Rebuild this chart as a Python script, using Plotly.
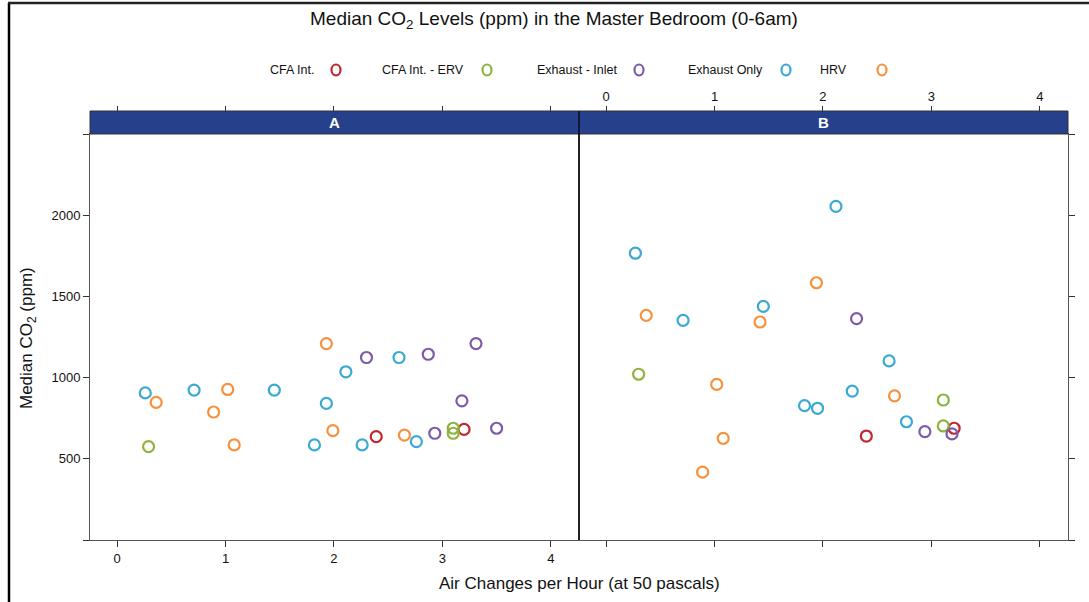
import plotly.graph_objects as go

# ---------------- data ----------------
SYSTEMS = ["CFA Int.", "CFA Int. - ERV", "Exhaust - Inlet", "Exhaust Only", "HRV"]
COLORS = ["#C1272D", "#8DB43E", "#7D5BA6", "#3AA9D3", "#F7913D"]
PANELS = ["A", "B"]

# panel A
A_CFA_X = [2.39, 3.20]
A_CFA_Y = [637, 682]
A_ERV_X = [0.29, 3.10, 3.10]
A_ERV_Y = [576, 689, 658]
A_INLET_X = [2.30, 2.87, 3.31, 3.18, 2.93, 3.50]
A_INLET_Y = [1125, 1145, 1211, 858, 658, 689]
A_EXH_X = [0.26, 0.71, 1.45, 1.93, 1.82, 2.60, 2.11, 2.26, 2.76]
A_EXH_Y = [907, 924, 924, 842, 586, 1125, 1037, 586, 606]
A_HRV_X = [0.36, 1.02, 0.89, 1.08, 1.93, 1.99, 2.65]
A_HRV_Y = [848, 928, 789, 586, 1211, 674, 647]

# panel B
B_CFA_X = [2.40, 3.21]
B_CFA_Y = [641, 689]
B_ERV_X = [0.30, 3.11, 3.11]
B_ERV_Y = [1022, 863, 703]
B_INLET_X = [2.31, 2.94, 3.19]
B_INLET_Y = [1365, 668, 654]
B_EXH_X = [0.27, 1.45, 0.71, 1.83, 1.95, 2.12, 2.61, 2.27, 2.77]
B_EXH_Y = [1768, 1440, 1354, 828, 812, 2057, 1104, 918, 729]
B_HRV_X = [1.94, 0.37, 1.42, 1.02, 1.08, 0.89, 2.66]
B_HRV_Y = [1586, 1385, 1344, 959, 627, 418, 889]

X_TICKS = [0, 1, 2, 3, 4]
Y_TICKS = [500, 1000, 1500, 2000]
Y_EDGE_TICKS = [0, 2500]
X_RANGE = [-0.25, 4.26]
Y_RANGE = [0, 2503]

DATA = {
    "A": [(A_CFA_X, A_CFA_Y), (A_ERV_X, A_ERV_Y), (A_INLET_X, A_INLET_Y),
          (A_EXH_X, A_EXH_Y), (A_HRV_X, A_HRV_Y)],
    "B": [(B_CFA_X, B_CFA_Y), (B_ERV_X, B_ERV_Y), (B_INLET_X, B_INLET_Y),
          (B_EXH_X, B_EXH_Y), (B_HRV_X, B_HRV_Y)],
}

# ---------------- layout helpers ----------------
W, H = 1089, 602
FONT = "Liberation Sans, Arial, sans-serif"


def px(x):
    return x / W


def py(y):
    return 1 - y / H


PANEL_L, PANEL_M, PANEL_R = 90, 579, 1068
PANEL_T, PANEL_B = 134, 540
STRIP_T = 111

fig = go.Figure()

for pi, panel in enumerate(PANELS):
    xa = "x" if pi == 0 else "x2"
    ya = "y" if pi == 0 else "y2"
    for si, name in enumerate(SYSTEMS):
        xs, ys = DATA[panel][si]
        fig.add_trace(go.Scatter(
            x=xs, y=ys, mode="markers", name=name, showlegend=False,
            xaxis=xa, yaxis=ya,
            marker=dict(symbol="circle-open", size=11, color=COLORS[si],
                        line=dict(width=2.2, color=COLORS[si])),
        ))

TICKFONT = dict(family=FONT, size=13, color="#111111")
axis_common = dict(showgrid=False, zeroline=False, showline=True, mirror=True,
                   linecolor="#555555", linewidth=1, ticks="outside", ticklen=6,
                   tickcolor="#333333", tickwidth=1, tickfont=TICKFONT)
bare_axis = dict(showgrid=False, zeroline=False, showline=False, ticks="outside",
                 tickcolor="#333333", tickwidth=1)

dom_a = [px(PANEL_L), px(PANEL_M)]
dom_b = [px(PANEL_M), px(PANEL_R)]
dom_y = [py(PANEL_B), py(PANEL_T)]

fig.update_layout(
    width=W, height=H,
    margin=dict(l=0, r=0, t=0, b=0),
    paper_bgcolor="white", plot_bgcolor="white",
    showlegend=False,
    xaxis=dict(domain=dom_a, range=X_RANGE, anchor="y", tickvals=X_TICKS,
               **axis_common),
    xaxis2=dict(domain=dom_b, range=X_RANGE, anchor="y2", tickvals=X_TICKS,
                showticklabels=False, **axis_common),
    yaxis=dict(domain=dom_y, range=Y_RANGE, anchor="x", tickvals=Y_TICKS,
               **axis_common),
    yaxis2=dict(domain=dom_y, range=Y_RANGE, anchor="x2", side="right",
                tickvals=Y_TICKS + Y_EDGE_TICKS, showticklabels=False, **axis_common),
    yaxis3=dict(overlaying="y", range=Y_RANGE, anchor="x", side="left",
                tickvals=Y_EDGE_TICKS, showticklabels=False, ticklen=6, **bare_axis),
    xaxis3=dict(overlaying="x", range=X_RANGE, anchor="free", position=py(STRIP_T),
                side="top", tickvals=X_TICKS, showticklabels=False, ticklen=5,
                **bare_axis),
    xaxis4=dict(overlaying="x2", range=X_RANGE, anchor="free", position=py(STRIP_T),
                side="top", tickvals=X_TICKS, showticklabels=True, ticklen=5,
                tickfont=TICKFONT, **bare_axis),
)

# empty traces so the extra axes render
fig.add_trace(go.Scatter(x=[None], y=[None], xaxis="x3", yaxis="y", showlegend=False))
fig.add_trace(go.Scatter(x=[None], y=[None], xaxis="x4", yaxis="y2", showlegend=False))
fig.add_trace(go.Scatter(x=[None], y=[None], xaxis="x", yaxis="y3", showlegend=False))

shapes = []
# strip
shapes.append(dict(type="rect", xref="paper", yref="paper",
                   x0=px(PANEL_L), x1=px(PANEL_R), y0=py(PANEL_T), y1=py(STRIP_T),
                   fillcolor="#26408B", line=dict(color="#333333", width=1), layer="above"))
# panel divider
shapes.append(dict(type="line", xref="paper", yref="paper",
                   x0=px(PANEL_M), x1=px(PANEL_M), y0=py(PANEL_B), y1=py(STRIP_T),
                   line=dict(color="#000000", width=1.2), layer="above"))
# outer frame (left and top)
shapes.append(dict(type="line", xref="paper", yref="paper",
                   x0=px(9), x1=px(9), y0=0, y1=py(3),
                   line=dict(color="#000000", width=2.5)))
shapes.append(dict(type="line", xref="paper", yref="paper",
                   x0=px(8), x1=1, y0=py(3), y1=py(3),
                   line=dict(color="#222222", width=2.5)))

# legend keys
LEG_TEXT_END = [316, 466, 619, 765, 849]
LEG_KEY_X = [336, 487, 639, 786, 882]
LEG_Y = 70
annotations = []
for si, name in enumerate(SYSTEMS):
    annotations.append(dict(text=name, xref="paper", yref="paper",
                            x=px(LEG_TEXT_END[si]), y=py(LEG_Y), xanchor="right",
                            yanchor="middle", showarrow=False,
                            font=dict(family=FONT, size=12.5, color="#111111")))
    shapes.append(dict(type="circle", xref="paper", yref="paper",
                       xsizemode="pixel", ysizemode="pixel",
                       xanchor=px(LEG_KEY_X[si]), yanchor=py(LEG_Y),
                       x0=-4.5, x1=4.5, y0=-5.5, y1=5.5,
                       line=dict(color=COLORS[si], width=2.2)))

# strip labels
for pi, panel in enumerate(PANELS):
    cx = (PANEL_L + PANEL_M) / 2 if pi == 0 else (PANEL_M + PANEL_R) / 2
    annotations.append(dict(text="<b>%s</b>" % panel, xref="paper", yref="paper",
                            x=px(cx), y=py((STRIP_T + PANEL_T) / 2), xanchor="center",
                            yanchor="middle", showarrow=False,
                            font=dict(family=FONT, size=15, color="white")))

# titles
annotations.append(dict(text="Median CO<sub>2</sub> Levels (ppm) in the Master Bedroom (0-6am)",
                        xref="paper", yref="paper", x=px(554), y=py(20),
                        xanchor="center", yanchor="middle", showarrow=False,
                        font=dict(family=FONT, size=19, color="#111111")))
annotations.append(dict(text="Air Changes per Hour (at 50 pascals)",
                        xref="paper", yref="paper", x=px(579), y=py(583),
                        xanchor="center", yanchor="middle", showarrow=False,
                        font=dict(family=FONT, size=17, color="#111111")))
annotations.append(dict(text="Median CO<sub>2</sub> (ppm)",
                        xref="paper", yref="paper", x=px(28), y=py(338),
                        xanchor="center", yanchor="middle", showarrow=False, textangle=-90,
                        font=dict(family=FONT, size=17, color="#111111")))

fig.update_layout(shapes=shapes, annotations=annotations)

fig.write_html("out.html")
